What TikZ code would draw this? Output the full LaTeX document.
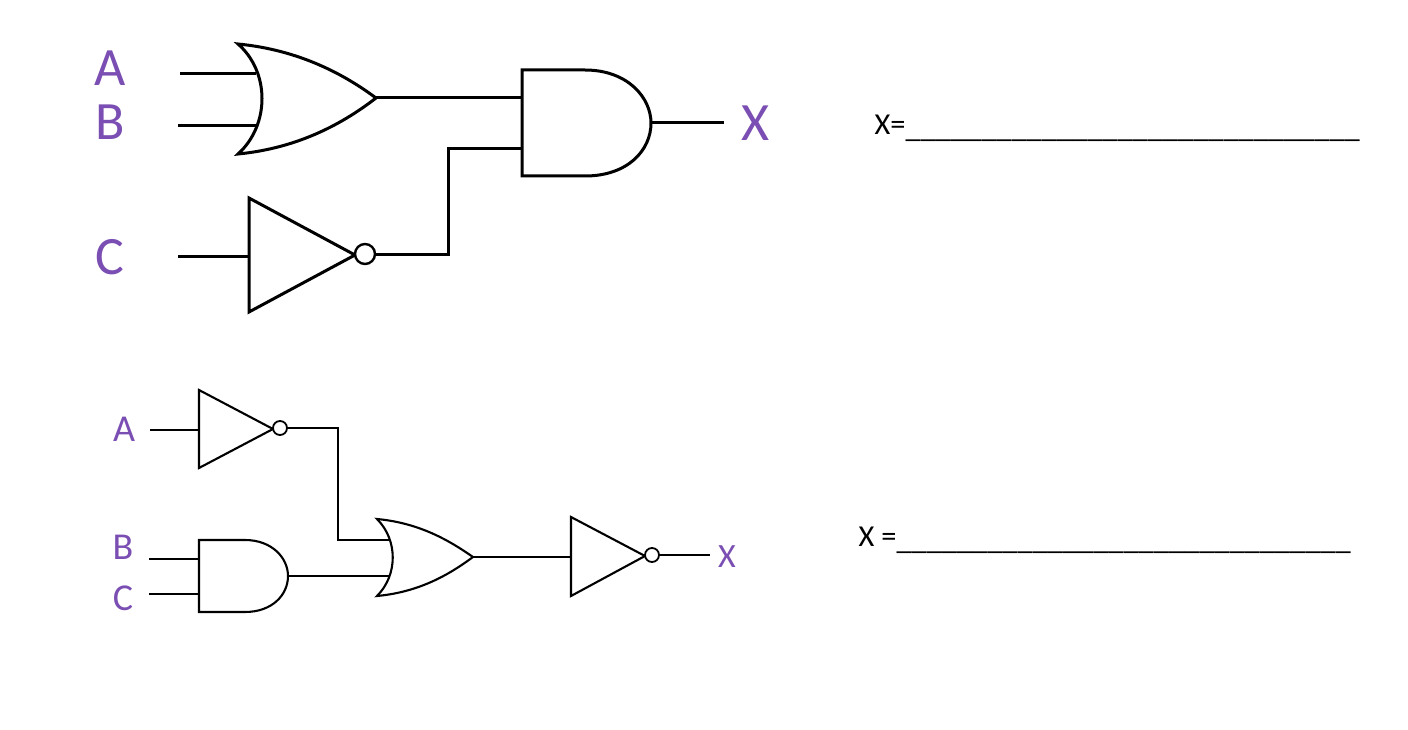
\documentclass[tikz,border=0pt]{standalone}
\usepackage{fontspec}
\setmainfont{Carlito}
\definecolor{lblpurple}{RGB}{122,78,178}
\tikzset{
  bigwire/.style={line width=3pt,line join=miter},
  biggate/.style={line width=3pt,line join=miter},
  smallwire/.style={line width=2.5pt,line join=miter},
  smallgate/.style={line width=2.1pt,line join=miter},
  bigbubble/.style={circle,draw,fill=white,line width=2.4pt,inner sep=0pt,minimum size=20pt},
  smallbubble/.style={circle,draw,fill=white,line width=1.8pt,inner sep=0pt,minimum size=14pt},
  biglabel/.style={text=lblpurple,font=\fontsize{54}{54}\selectfont},
  smalllabel/.style={text=lblpurple,font=\fontsize{38}{38}\selectfont},
  answer/.style={anchor=base west,inner sep=0pt,font=\fontsize{30.4}{30.4}\selectfont}
}
\newcommand{\blankline}{\raisebox{-3pt}{\_\_\_\_\_\_\_\_\_\_\_\_\_\_\_\_\_\_\_\_\_\_\_\_\_\_\_\_\_\_}}
\begin{document}
\begin{tikzpicture}[x=1pt,y=-1pt]
            \useasboundingbox (0,0) rectangle (1408,730);
            % upper circuit
            \node[biglabel] (A1) at (110,68){A};
            \node[biglabel] (B1) at (110,122){B};
            \node[biglabel] (C1) at (110,257){C};
            \node[biglabel] (X1) at (756,123){X};
            \coordinate (A1in) at (180,74);
            \coordinate (A1or) at (256,74);
            \coordinate (B1in) at (178,126);
            \coordinate (B1or) at (256,126);
            \coordinate (C1in) at (178,256);
            \coordinate (C1not) at (249,256);
            \coordinate (OR1out) at (376,98);
            \coordinate (AND1a) at (522,98);
            \coordinate (AND1b) at (522,149);
            \coordinate (AND1out) at (651,123);
            \coordinate (X1end) at (724,123);
            \draw[biggate] (238,44) .. controls (300,50) and (345,75) .. (OR1out)
                .. controls (345,122) and (300,148) .. (238,154)
                .. controls (270,125) and (270,72) .. cycle;
            \draw[biggate] (522,70) -- (585,70) .. controls (628,70) and (651,98) .. (AND1out)
                .. controls (651,150) and (628,176) .. (585,176) -- (522,176) -- cycle;
            \draw[biggate] (249,198) -- (355,255) -- (249,312) -- cycle;
            \node[bigbubble] (NOT1) at (365,254){};
            \draw[bigwire] (A1in) -- (A1or);
            \draw[bigwire] (B1in) -- (B1or);
            \draw[bigwire] (C1in) -- (C1not);
            \draw[bigwire] (OR1out) -- (AND1a);
            \draw[bigwire] (NOT1.east) -- (448,254) -- (448,149) -- (AND1b);
            \draw[bigwire] (AND1out) -- (X1end);
            % lower circuit
            \node[smalllabel] (A2) at (124,429){A};
            \node[smalllabel] (B2) at (123,547){B};
            \node[smalllabel] (C2) at (123,598){C};
            \node[smalllabel,font=\fontsize{34}{34}\selectfont] (X2) at (727,557){X};
            \coordinate (A2in) at (150,430);
            \coordinate (A2not) at (199,430);
            \coordinate (B2in) at (149,559);
            \coordinate (B2and) at (199,559);
            \coordinate (C2in) at (149,594);
            \coordinate (C2and) at (199,594);
            \coordinate (AND2out) at (288,576);
            \coordinate (OR2a) at (389,540);
            \coordinate (OR2b) at (389,576);
            \coordinate (OR2out) at (473,557);
            \coordinate (NOT3in) at (571,557);
            \coordinate (X2end) at (710,555);
            \draw[smallgate] (199,390) -- (273,429) -- (199,468) -- cycle;
            \node[smallbubble] (NOT2) at (280,428){};
            \draw[smallgate] (199,540) -- (245,540) .. controls (272,540) and (288,558) .. (AND2out)
                .. controls (288,595) and (272,612) .. (245,612) -- (199,612) -- cycle;
            \draw[smallgate] (377,519) .. controls (420,523) and (450,541) .. (OR2out)
                .. controls (450,574) and (420,592) .. (377,596)
                .. controls (398,575) and (398,540) .. cycle;
            \draw[smallgate] (571,517) -- (645,556) -- (571,596) -- cycle;
            \node[smallbubble] (NOT3) at (652,555){};
            \draw[smallwire] (A2in) -- (A2not);
            \draw[smallwire] (B2in) -- (B2and);
            \draw[smallwire] (C2in) -- (C2and);
            \draw[smallwire] (NOT2.east) -- (338,428) -- (338,540) -- (OR2a);
            \draw[smallwire] (AND2out) -- (OR2b);
            \draw[smallwire] (OR2out) -- (NOT3in);
            \draw[smallwire] (NOT3.east) -- (X2end);
            % answer lines
            \node[answer] (ans1) at (874.5,135){X=\blankline};
            \node[answer] (ans2) at (858.5,546){X =\blankline};
        \end{tikzpicture}
\end{document}
